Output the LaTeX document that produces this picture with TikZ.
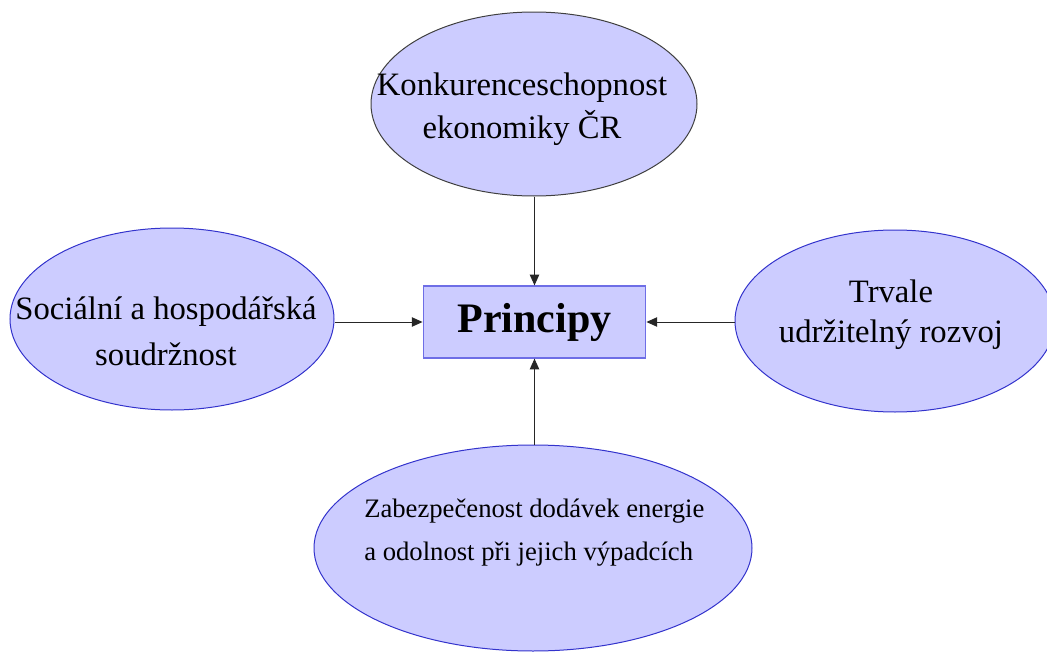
\documentclass[tikz,border=0pt]{standalone}
\usepackage{fontspec}
\setmainfont{Liberation Serif}
\usetikzlibrary{arrows.meta,shapes.geometric}
\definecolor{bubblefill}{RGB}{204,204,255}
\definecolor{bubbleedge}{RGB}{51,51,204}
\definecolor{hubedge}{RGB}{110,110,230}

\begin{document}
\begin{tikzpicture}[
    x=0.75pt, y=-0.75pt,
    bubble/.style={ellipse, draw=bubbleedge, fill=bubblefill, line width=0.75pt, inner sep=0pt},
    tag/.style={anchor=base, align=center, inner sep=0pt, font=\fontsize{24.5}{32}\selectfont},
    hub/.style={rectangle, draw=hubedge, fill=bubblefill, line width=0.9pt, minimum width=167pt, minimum height=54pt, font=\bfseries\fontsize{31.5}{36}\selectfont},
    arrow/.style={-{Triangle[length=8pt,width=7pt]}, line width=0.75pt, draw=black!85}
]
\useasboundingbox (0,0) rectangle (1047,653);

% centre
\node[hub] (princ) at (534.5,322) {Principy};

% the four ellipses
\node[bubble, draw=black!75, minimum width=244.5pt, minimum height=138pt] (konk) at (534,104) {};
\node[bubble, minimum width=243pt, minimum height=136.5pt] (soc) at (172,319) {};
\node[bubble, minimum width=240pt, minimum height=136.5pt] (trv) at (895,321) {};
\node[bubble, minimum width=328.5pt, minimum height=154.5pt] (zab) at (533,548) {};

% texts (placed at the baseline of the last line)
\node[tag] (konkt) at (522,138) {Konkurenceschopnost\\ekonomiky ČR};
\node[tag, font=\fontsize{24.5}{34}\selectfont] (soct) at (166,365) {Sociální a hospodářská\\soudržnost};
\node[tag, font=\fontsize{24.5}{29.5}\selectfont] (trvt) at (891,342) {Trvale\\udržitelný rozvoj};
\node[tag, anchor=base west, align=left, font=\fontsize{20}{32}\selectfont] (zabt) at (364,560) {Zabezpečenost dodávek energie\\a odolnost při jejich výpadcích};

\draw[arrow] (konk.south -| princ) -- (princ.north);
\draw[arrow] (soc.east |- princ) -- (princ.west);
\draw[arrow] (trv.west |- princ) -- (princ.east);
\draw[arrow] (zab.north -| princ) -- (princ.south);
\end{tikzpicture}
\end{document}
